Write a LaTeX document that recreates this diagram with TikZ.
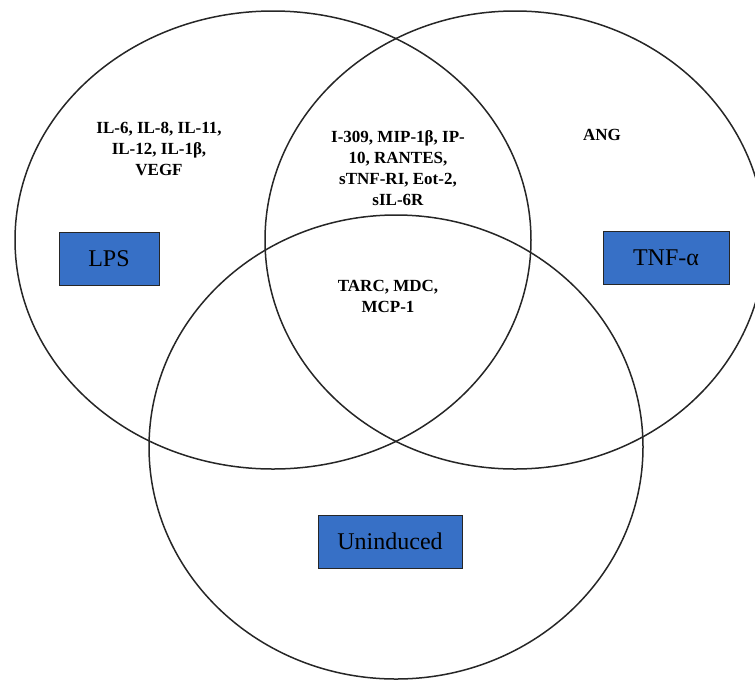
\documentclass[tikz,border=0pt]{standalone}
\usepackage{fontspec}
\setmainfont{Liberation Serif}
\usetikzlibrary{positioning}
\definecolor{boxblue}{RGB}{55,112,198}

\begin{document}
\begin{tikzpicture}[
  x=1pt, y=-1pt,
  set/.style={line width=1.5pt, draw=black!85},
  setname/.style={
    rectangle,
    draw=black!85,
    line width=1pt,
    fill=boxblue,
    minimum height=53pt,
    inner sep=0pt,
    font=\fontsize{24}{27}\selectfont
  },
  members/.style={align=center, inner sep=0pt, font=\bfseries\fontsize{17}{21}\selectfont}
]
  \useasboundingbox (0,0) rectangle (755,681);

  % the three sets
  \draw[set] (273,240) ellipse [x radius=258, y radius=229];
  \draw[set] (515,240) ellipse [x radius=250, y radius=229];
  \draw[set] (396,447) ellipse [x radius=247, y radius=232];

  % set names
  \node[setname, minimum width=100pt] (lps) at (109,258.5) {LPS};
  \node[setname, minimum width=126pt] (tnf) at (666,257.5) {TNF-α};
  \node[setname, minimum width=144pt] (uni) at (390,541.5) {Uninduced};

  % members of each region
  \node[members] (lpsonly) at (159,149) {IL-6, IL-8, IL-11,\\IL-12, IL-1β,\\VEGF};
  \node[members] (lpstnf) at (398,168) {I-309, MIP-1β, IP-\\10, RANTES,\\sTNF-RI, Eot-2,\\sIL-6R};
  \node[members] (tnfonly) at (602,135) {ANG};
  \node[members] (all) at (388,296) {TARC, MDC,\\MCP-1};
\end{tikzpicture}
\end{document}
